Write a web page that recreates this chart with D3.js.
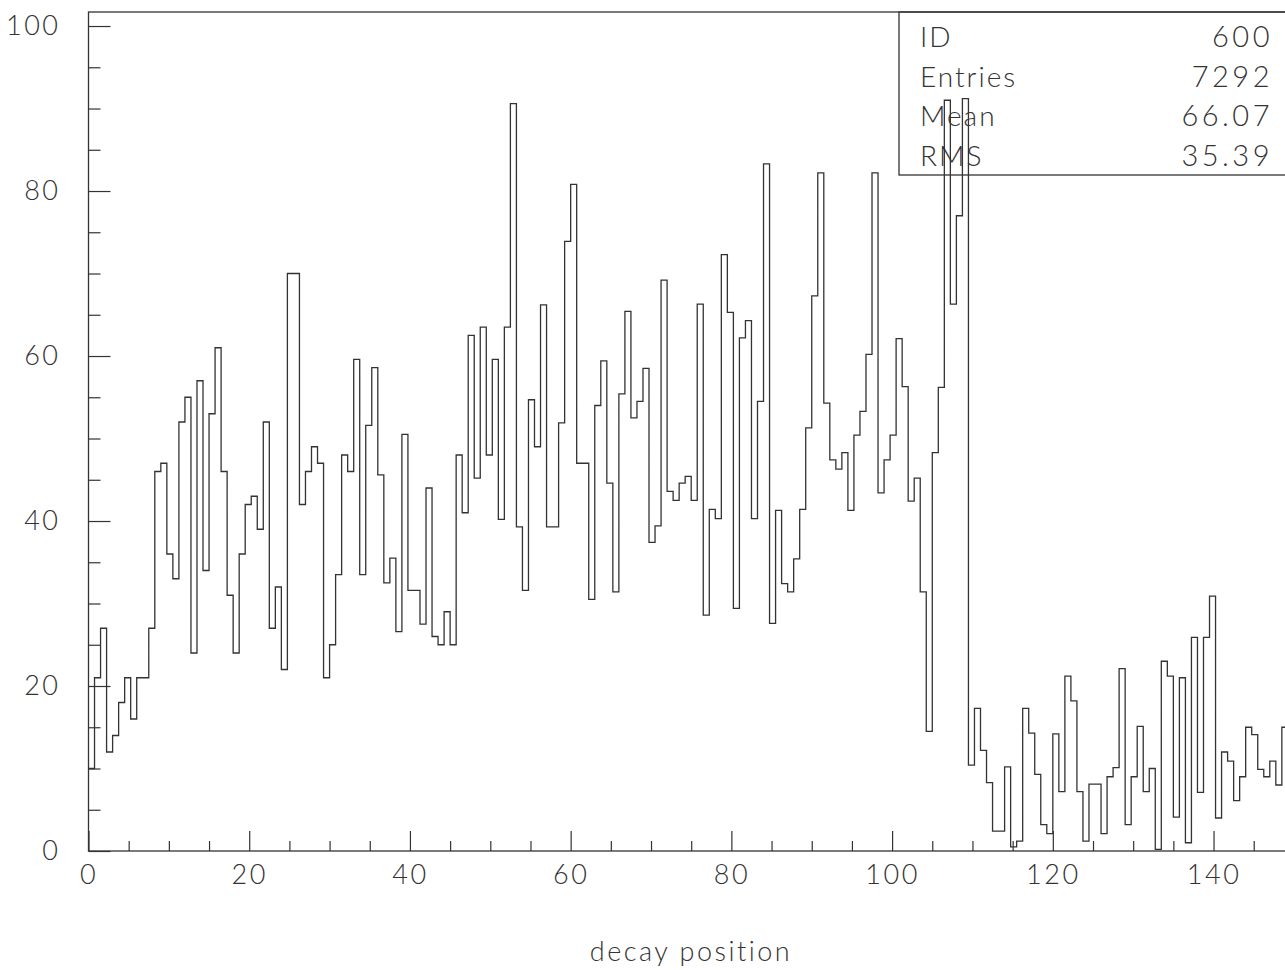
<!DOCTYPE html>
<html>
<head>
<meta charset="utf-8">
<script src="https://cdn.jsdelivr.net/npm/d3@7"></script>
<style>
  html, body { margin: 0; padding: 0; background: #fff; }
  svg { display: block; }
  text { font-family: Lato, "DejaVu Sans", sans-serif; font-weight: 300; fill: #333; }
</style>
</head>
<body>
<div id="paper"></div>
<script>
// histogram 600 : decay position, 200 bins from 0 to 150

const xLow = 0, xHigh = 150
const counts = [
  10, 21, 27, 12, 14, 18, 21, 16, 21, 21,
  27, 46, 47, 36, 33, 52, 55, 24, 57, 34,
  53, 61, 46, 31, 24, 36, 42, 43, 39, 52,
  27, 32, 22, 70, 70, 42, 46, 49, 47, 21,
  25, 33.5, 48, 46, 59.6, 33.5, 51.6, 58.6, 45.6, 32.5,
  35.5, 26.6, 50.5, 31.6, 31.6, 27.5, 44, 26, 25, 29,
  25, 48, 41, 62.5, 45.2, 63.5, 48, 59.6, 40.2, 63.5,
  90.6, 39.3, 31.6, 54.7, 49, 66.2, 39.3, 39.3, 51.9, 73.9,
  80.8, 47, 47, 30.5, 54, 59.4, 44.6, 31.4, 55.4, 65.4,
  52.5, 54.5, 58.5, 37.4, 39.4, 69.2, 43.6, 42.5, 44.6, 45.4,
  42.5, 66.3, 28.6, 41.4, 40.3, 72.3, 65.3, 29.4, 62.2, 64.3,
  40.3, 54.5, 83.3, 27.6, 41.3, 32.4, 31.4, 35.4, 41.4, 51.3,
  67.3, 82.2, 54.3, 47.4, 46.3, 48.3, 41.3, 50.4, 53.3, 60.2,
  82.2, 43.4, 47.4, 50.4, 62.1, 56.3, 42.4, 45.2, 31.4, 14.5,
  48.3, 56.2, 91, 66.3, 77, 91.2, 10.4, 17.3, 12.2, 8.3,
  2.4, 2.4, 10.2, 0.5, 1.2, 17.3, 14.3, 9.3, 3.2, 2.1,
  14.2, 7.2, 21.2, 18.2, 7.2, 1.2, 8.1, 8.1, 2.1, 9.0,
  10.1, 22.1, 3.2, 9.0, 15.1, 7.2, 10.0, 0.2, 23.0, 21.2,
  4.1, 21.0, 1.0, 25.9, 7.1, 25.9, 30.9, 4.0, 12.0, 10.9,
  6.1, 9.0, 15.0, 14.1, 9.9, 9.0, 10.9, 8.0, 15.0, 12
]

const xMajor = [0, 20, 40, 60, 80, 100, 120, 140]
const xMinor = d3.range(5, 150, 5).filter(v => v % 20 != 0)
const yMajor = [0, 20, 40, 60, 80, 100]
const yMinor = [5, 10, 15, 25, 30, 35, 45, 50, 55, 65, 70, 75, 85, 90, 95]

const statLabels = ['ID', 'Entries', 'Mean', 'RMS']
const statValues = ['600', '7292', '66.07', '35.39']
const xTitle = 'decay position'

// scales

const x = d3.scaleLinear().domain([xLow, xHigh]).range([88.5, 1293.9])
const y = d3.scaleLinear().domain([0, 101.7]).range([851, 12])
const ink = '#333'

const svg = d3.select('#paper')
  .append('svg')
  .attr('id', 'canvas')
  .attr('width', 1285)
  .attr('height', 970)

// frame

svg.append('rect')
  .attr('x', x(xLow)).attr('y', y(101.7))
  .attr('width', x(xHigh) - x(xLow)).attr('height', y(0) - y(101.7))
  .attr('fill', 'none').attr('stroke', ink).attr('stroke-width', 1.3)

// ticks (inside the frame)

function tickAxis(axis, pos) {
  svg.append('g')
    .attr('transform', pos)
    .call(axis)
    .call(g => g.select('.domain').remove())
    .call(g => g.selectAll('line').attr('stroke', ink).attr('stroke-width', 1.2))
}

tickAxis(d3.axisRight(y).tickValues(yMajor).tickSize(22).tickFormat(''), `translate(${x(0)},0)`)
tickAxis(d3.axisRight(y).tickValues(yMinor).tickSize(12).tickFormat(''), `translate(${x(0)},0)`)
tickAxis(d3.axisTop(x).tickValues(xMajor).tickSize(20).tickFormat(''), `translate(0,${y(0)})`)
tickAxis(d3.axisTop(x).tickValues(xMinor).tickSize(10).tickFormat(''), `translate(0,${y(0)})`)

// tick labels

const yLab = svg.append('g')
  .attr('transform', `translate(${x(0)},0)`)
  .call(d3.axisLeft(y).tickValues(yMajor).tickSize(0).tickPadding(28).tickFormat(d3.format('d')))
yLab.select('.domain').remove()
yLab.selectAll('text')
  .attr('font-family', null).attr('font-size', null)
  .style('font-size', '27px').style('letter-spacing', '2.5px')

const xLab = svg.append('g')
  .attr('transform', `translate(0,${y(0)})`)
  .call(d3.axisBottom(x).tickValues(xMajor).tickSize(0).tickPadding(14).tickFormat(d3.format('d')))
xLab.select('.domain').remove()
xLab.selectAll('text')
  .attr('font-family', null).attr('font-size', null)
  .style('font-size', '27px').style('letter-spacing', '2.5px')

svg.append('text')
  .attr('x', 691).attr('y', 961)
  .attr('text-anchor', 'middle')
  .style('font-size', '27px').style('letter-spacing', '2.5px')
  .text(xTitle)

// stats box

svg.append('rect')
  .attr('x', 899).attr('y', y(101.7))
  .attr('width', x(xHigh) - 899).attr('height', 175 - y(101.7))
  .attr('fill', 'none').attr('stroke', ink).attr('stroke-width', 1.3)

statLabels.forEach((d, i) => {
  svg.append('text')
    .attr('x', 920).attr('y', 47 + i * 39.7)
    .style('font-size', '28px').style('letter-spacing', '2px')
    .text(d)
  svg.append('text')
    .attr('x', 1273).attr('y', 47 + i * 39.7)
    .attr('text-anchor', 'end')
    .style('font-size', '29px').style('letter-spacing', '3.5px')
    .text(statValues[i])
})

// histogram outline

const binW = (xHigh - xLow) / counts.length
const steps = counts.map((c, i) => [xLow + i * binW, c])
steps.push([xHigh, counts[counts.length - 1]])

const outline = d3.line()
  .x(d => x(d[0]))
  .y(d => y(d[1]))
  .curve(d3.curveStepAfter)

svg.append('path')
  .attr('d', outline(steps))
  .attr('fill', 'none')
  .attr('stroke', ink)
  .attr('stroke-width', 1.3)
</script>
</body>
</html>
